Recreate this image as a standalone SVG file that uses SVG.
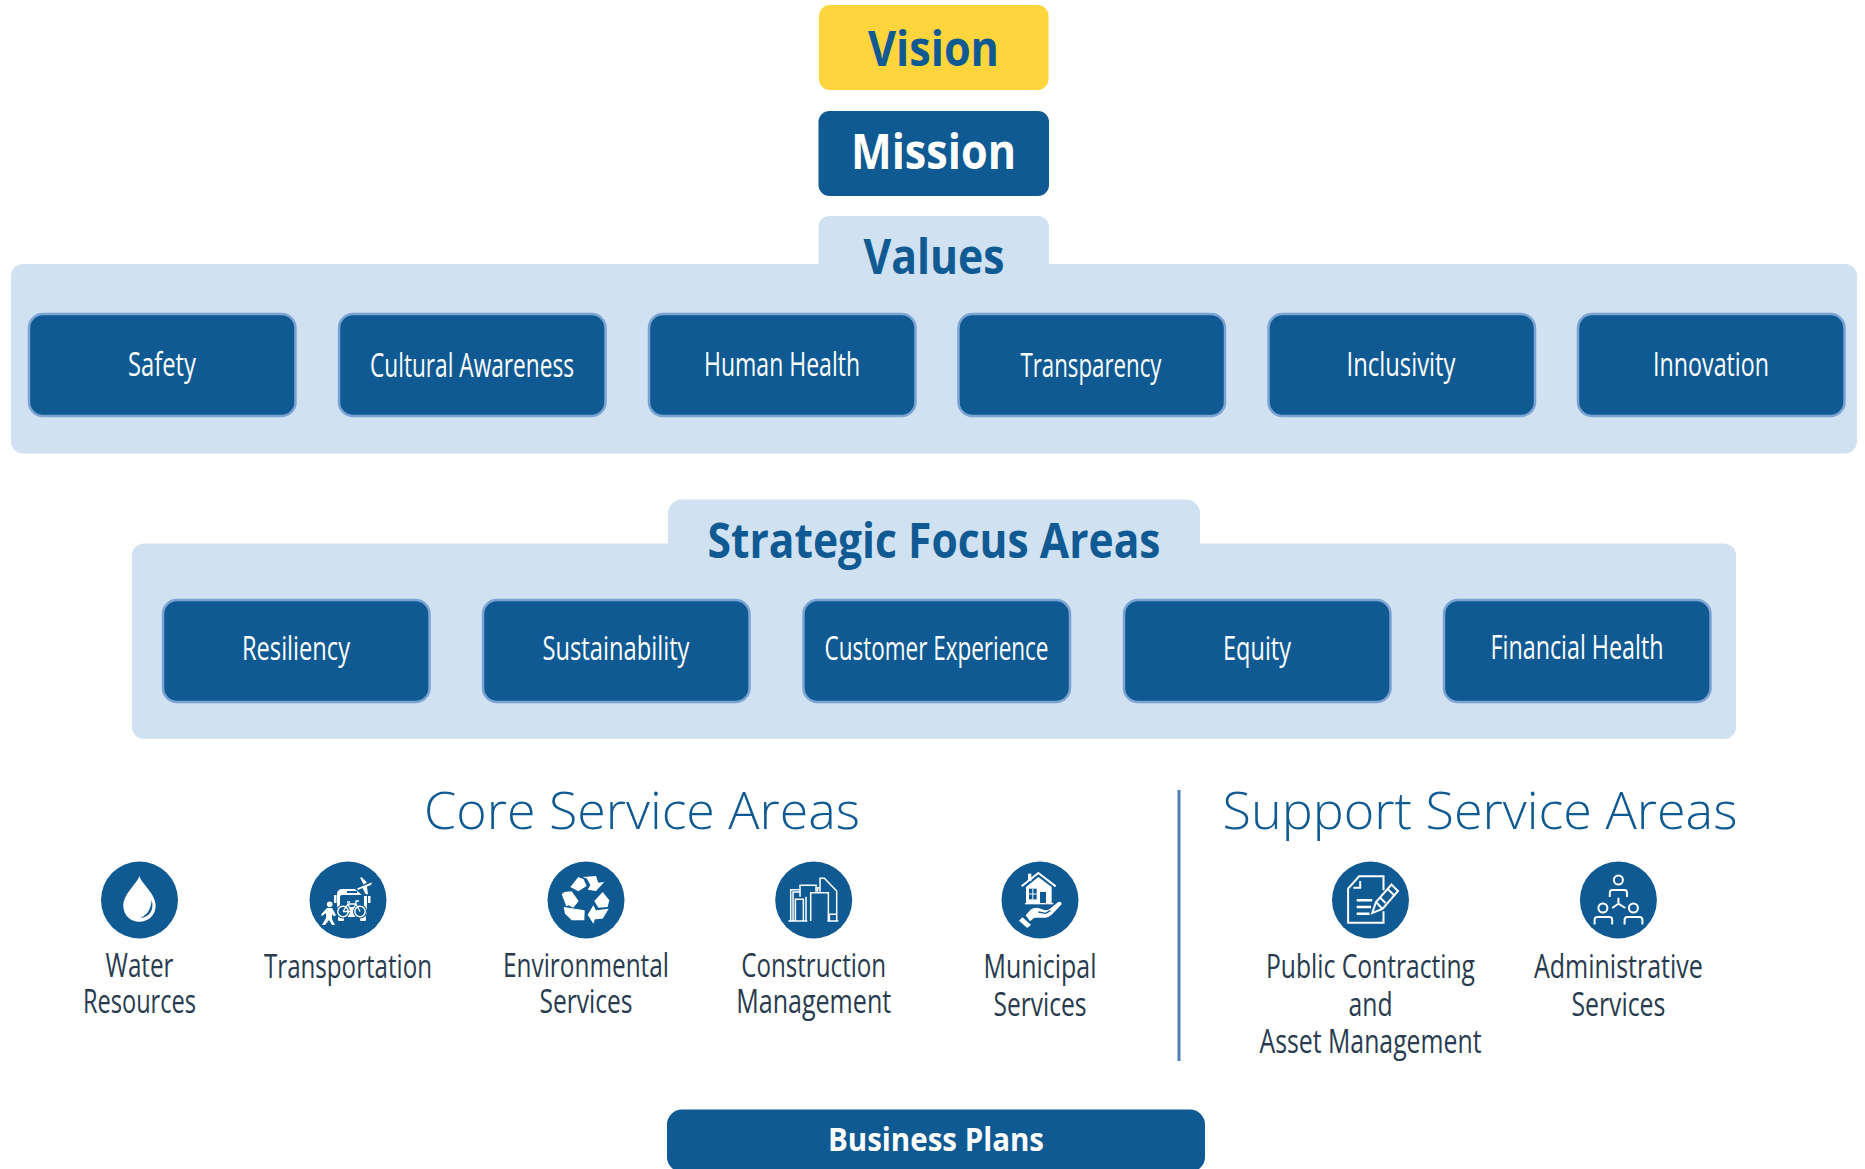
<svg xmlns="http://www.w3.org/2000/svg" width="1865" height="1169" viewBox="0 0 1865 1169">
<style>
text{font-family:"Open Sans","Noto Sans","Liberation Sans",sans-serif;text-anchor:middle}
.panel{fill:#d0e1f2}
.blue{fill:#0f5a92}
.pill{fill:#0f5a92;stroke:#7ba3d3;stroke-width:2.5}
.h1{font-size:49px;font-weight:700}
.h2{font-size:49px;font-weight:700;fill:#0f5a92}
.pt{font-size:32px;fill:#fff}
.sec{font-size:51px;font-weight:300;fill:#0f5a92}
.lab{font-size:33px;fill:#283b4f}
.w{fill:#fff;stroke:none}
.l{fill:none;stroke:#fff;stroke-width:2}
.b{fill:#0f5a92;stroke:none}
.bl{fill:none;stroke:#0f5a92;stroke-width:2}
</style>
<rect width="1865" height="1169" fill="#fff"/>
<g id="connectors"><path d="M1179 790V1061" stroke="#4f81b5" stroke-width="3" fill="none"/></g>
<g id="vision"><rect x="819" y="5" width="229.500" height="85" rx="11" fill="#ffd53e"/><text class="h2" x="933.500" y="66" textLength="131" lengthAdjust="spacingAndGlyphs">Vision</text></g>
<g id="mission"><rect x="818.500" y="111" width="230.500" height="85" rx="11" class="blue"/><text class="h1" x="933.500" y="169" fill="#fff" textLength="165" lengthAdjust="spacingAndGlyphs">Mission</text></g>
<g id="values">
<rect x="818.500" y="216" width="230.500" height="70" rx="11" class="panel"/>
<rect x="11" y="264" width="1846" height="189.500" rx="12" class="panel"/>
<text class="h2" x="934" y="274" textLength="141" lengthAdjust="spacingAndGlyphs">Values</text>
</g>
<g id="value-safety"><rect x="29" y="314" width="266.500" height="102" rx="14" class="pill"/><text class="pt" x="162" y="376" textLength="68" lengthAdjust="spacingAndGlyphs">Safety</text></g>
<g id="value-cultural"><rect x="339" y="314" width="266.500" height="102" rx="14" class="pill"/><text class="pt" x="472" y="377" textLength="204" lengthAdjust="spacingAndGlyphs">Cultural Awareness</text></g>
<g id="value-health"><rect x="649" y="314" width="266.500" height="102" rx="14" class="pill"/><text class="pt" x="782" y="376" textLength="156" lengthAdjust="spacingAndGlyphs">Human Health</text></g>
<g id="value-transparency"><rect x="958.500" y="314" width="266.500" height="102" rx="14" class="pill"/><text class="pt" x="1091" y="377" textLength="141" lengthAdjust="spacingAndGlyphs">Transparency</text></g>
<g id="value-inclusivity"><rect x="1268.500" y="314" width="266.500" height="102" rx="14" class="pill"/><text class="pt" x="1401" y="376" textLength="109" lengthAdjust="spacingAndGlyphs">Inclusivity</text></g>
<g id="value-innovation"><rect x="1578" y="314" width="266.500" height="102" rx="14" class="pill"/><text class="pt" x="1711" y="376" textLength="116" lengthAdjust="spacingAndGlyphs">Innovation</text></g>
<g id="strategic">
<rect x="668" y="499.500" width="532" height="70" rx="14" class="panel"/>
<rect x="132" y="543.500" width="1604" height="195.500" rx="12" class="panel"/>
<text class="h2" x="934" y="558" textLength="453" lengthAdjust="spacingAndGlyphs">Strategic Focus Areas</text>
</g>
<g id="focus-resiliency"><rect x="163" y="600" width="266.500" height="102" rx="14" class="pill"/><text class="pt" x="296" y="660" textLength="108" lengthAdjust="spacingAndGlyphs">Resiliency</text></g>
<g id="focus-sustainability"><rect x="483" y="600" width="266.500" height="102" rx="14" class="pill"/><text class="pt" x="616" y="660" textLength="147" lengthAdjust="spacingAndGlyphs">Sustainability</text></g>
<g id="focus-customer"><rect x="803.500" y="600" width="266.500" height="102" rx="14" class="pill"/><text class="pt" x="936.500" y="660" textLength="224" lengthAdjust="spacingAndGlyphs">Customer Experience</text></g>
<g id="focus-equity"><rect x="1124" y="600" width="266.500" height="102" rx="14" class="pill"/><text class="pt" x="1257" y="660" textLength="68" lengthAdjust="spacingAndGlyphs">Equity</text></g>
<g id="focus-financial"><rect x="1444" y="600" width="266.500" height="102" rx="14" class="pill"/><text class="pt" x="1577" y="659" textLength="173" lengthAdjust="spacingAndGlyphs">Financial Health</text></g>
<g id="core-heading"><text class="sec" x="642" y="829" textLength="436" lengthAdjust="spacingAndGlyphs">Core Service Areas</text></g>
<g id="support-heading"><text class="sec" x="1480" y="829" textLength="515" lengthAdjust="spacingAndGlyphs">Support Service Areas</text></g>
<g id="water">
<circle cx="139.500" cy="900" r="38.500" class="blue"/>
<g transform="translate(139.500 900) scale(.3333) translate(-133.500 -135)"><path class="w" d="M133 62C138 85 182 115 182 152C182 180 160 200 133 200C106 200 85 180 85 152C85 115 128 85 133 62Z"/><path class="b" d="M170 135C178 165 165 185 135 190C155 180 168 165 170 135Z"/></g>
<text class="lab" x="139.500" y="977" textLength="68" lengthAdjust="spacingAndGlyphs">Water</text><text class="lab" x="139.500" y="1013" textLength="113" lengthAdjust="spacingAndGlyphs">Resources</text>
</g>
<g id="transportation">
<circle cx="348" cy="900" r="38.500" class="blue"/>
<g transform="translate(347 900)">
<rect class="w" x="-10" y="-11" width="30" height="28" rx="5"/><rect class="b" x="-7" y="-5" width="24" height="12" rx="2"/><rect class="b" x="0" y="-9" width="10" height="2"/>
<rect class="w" x="-9" y="16" width="6" height="5" rx="1"/><rect class="w" x="13" y="16" width="6" height="5" rx="1"/>
<rect class="w" x="-13" y="-5" width="2.500" height="8"/><rect class="w" x="21" y="-5" width="2.500" height="8"/>
<circle cx="-4" cy="11.500" r="7" class="b"/><circle cx="13" cy="11.500" r="7" class="b"/>
<circle cx="-4" cy="11.500" r="5.200" class="l" style="stroke-width:1.400"/><circle cx="13" cy="11.500" r="5.200" class="l" style="stroke-width:1.400"/>
<path class="l" style="stroke-width:1.300" d="M-4 11.500L1 4H9L13 11.500M1 4L4.500 11.500H-4M4.500 11.500L9 4M0 2H3M9 4V1H12"/>
<path class="b" d="M8-11L14-24L27-19L24-4L16-4Z"/>
<path class="w" d="M10-11.500L22-16.500L25-17.500L24-15L20-13.500L21-5.500L18.500-6L15.500-12L11-10ZM13-22.500L15-22.500L20-17.500L16.500-15.500Z"/>
<circle class="w" cx="-17.300" cy="4.300" r="2.800"/>
<path class="w" d="M-20 8H-15L-11 15L-13 16.500L-15 14V19L-12 25H-15L-18 20L-22 25H-25L-21 18V13L-25 16L-26 14.500Z"/>
</g>
<text class="lab" x="348" y="978" textLength="168" lengthAdjust="spacingAndGlyphs">Transportation</text>
</g>
<g id="environmental">
<circle cx="586" cy="900" r="38.500" class="blue"/>
<g transform="translate(586 900) scale(.3333) translate(-135 -134)">
<path class="w" d="M88 95L112 65L128 72L137 92L112 108Z"/>
<path class="w" d="M125 65L165 62L172 82L190 80L165 107L140 103L148 90L138 70Z"/>
<path class="w" d="M62 117L70 110L92 108L113 137L97 157L82 150L76 153Z"/>
<path class="w" d="M68 155L131 165L130 195L92 195L72 175Z"/>
<path class="w" d="M185 110L205 135L200 155L172 157L160 137Z"/>
<path class="w" d="M140 178L157 150L165 165L203 160L185 190L162 192L157 205Z"/>
</g>
<text class="lab" x="586" y="977" textLength="166" lengthAdjust="spacingAndGlyphs">Environmental</text><text class="lab" x="586" y="1013" textLength="93" lengthAdjust="spacingAndGlyphs">Services</text>
</g>
<g id="construction">
<circle cx="813.700" cy="900" r="38.500" class="blue"/>
<g transform="translate(813.700 900) scale(.3333) translate(-131 -135)" class="l" style="stroke-width:4.500">
<path d="M55 198H112M172 198H205M62 198V104H88M69 198V111H88M76 198V133H100V198M108 198V125M90 125V91H138V110M122 198V113H175V198M150 110V70H163L200 108V178M178 178H200V198M178 178V198M143 110V98H150"/>
</g>
<text class="lab" x="813.700" y="977" textLength="145" lengthAdjust="spacingAndGlyphs">Construction</text><text class="lab" x="813.700" y="1013" textLength="155" lengthAdjust="spacingAndGlyphs">Management</text>
</g>
<g id="municipal">
<circle cx="1040" cy="900" r="38.500" class="blue"/>
<g transform="translate(1040 900) scale(.3333) translate(-135 -134)">
<rect class="w" x="99" y="55" width="10" height="22"/>
<path class="l" style="stroke-width:6" d="M80 93L130 53L182 93"/>
<path class="w" d="M93 95L130 65L170 95V143H93Z"/><rect class="w" x="90" y="143" width="85" height="4"/>
<rect class="b" x="102" y="100" width="23" height="32"/><path class="l" style="stroke-width:3" d="M113.500 100V132M102 116H125"/>
<rect class="b" x="135" y="110" width="18" height="33"/>
<path class="w" d="M92 180L108 162Q118 155 130 158L150 165Q160 165 165 160L190 140Q200 136 200 147L170 178Q160 187 150 187L118 187L105 198Z"/>
<path class="bl" style="stroke-width:4" d="M130 170L152 174L166 166"/>
<path class="w" d="M72 196L82 186L108 208L97 218Z"/>
</g>
<text class="lab" x="1040" y="978" textLength="113" lengthAdjust="spacingAndGlyphs">Municipal</text><text class="lab" x="1040" y="1016" textLength="93" lengthAdjust="spacingAndGlyphs">Services</text>
</g>
<g id="contracting">
<circle cx="1370.500" cy="900" r="38.500" class="blue"/>
<g transform="translate(1370.500 900)" class="l">
<path d="M13-9.700V-23.700H-11.400L-22.400-11.300V22.700H13V11.300M-17.200-12.300H-10.300V-19" />
<path style="stroke-width:2.500" d="M-13.800 .3H1.700M-13.800 7H.5M-13.800 13.700H-1"/>
<path d="M1.700 13L5.500 2L21-15.500L27.500-9L12 9ZM5.500 2L12 9M17-11L23.500-5M9-3L15 3"/>
</g>
<text class="lab" x="1370.500" y="978" textLength="209" lengthAdjust="spacingAndGlyphs">Public Contracting</text><text class="lab" x="1370.500" y="1016" textLength="44" lengthAdjust="spacingAndGlyphs">and</text><text class="lab" x="1370.500" y="1053" textLength="222" lengthAdjust="spacingAndGlyphs">Asset Management</text>
</g>
<g id="administrative">
<circle cx="1618.400" cy="900" r="38.500" class="blue"/>
<g transform="translate(1618.400 900)" class="l">
<circle cx="0" cy="-20" r="4.500"/><circle cx="-15.500" cy="8" r="4.500"/><circle cx="15" cy="8" r="4.500"/>
<path d="M-8.600-3V-7Q-8.600-10-6-10H6Q8.600-10 8.600-7V-3M-23.800 24.500V20Q-23.800 17-21 17H-9Q-6.200 17-6.200 20V24.500M6.200 24.500V20Q6.200 17 9 17H21Q24 17 24 20V24.500M0-2.300V3.700L-6.200 8M0 3.700L6.900 8"/>
</g>
<text class="lab" x="1618.400" y="978" textLength="169" lengthAdjust="spacingAndGlyphs">Administrative</text><text class="lab" x="1618.400" y="1016" textLength="94" lengthAdjust="spacingAndGlyphs">Services</text>
</g>
<g id="business-plans"><rect x="667" y="1109.500" width="538" height="62.500" rx="15" class="blue"/><text x="936" y="1151" fill="#fff" font-size="33" font-weight="700" textLength="216" lengthAdjust="spacingAndGlyphs">Business Plans</text></g>
</svg>
